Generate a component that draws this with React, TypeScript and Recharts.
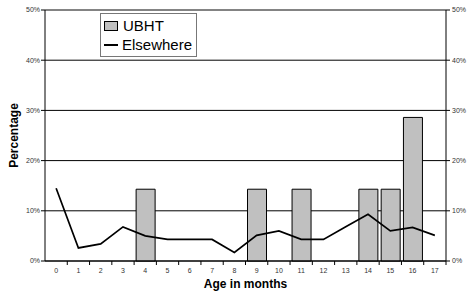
import React from "react";
import {
  ComposedChart,
  Bar,
  Line,
  XAxis,
  YAxis,
  CartesianGrid,
  ReferenceLine,
} from "recharts";

// age in months
const months = [0, 1, 2, 3, 4, 5, 6, 7, 8, 9, 10, 11, 12, 13, 14, 15, 16, 17];
// percentages, null = no bar
const ubht = [null, null, null, null, 14.3, null, null, null, null, 14.3, null, 14.3, null, null, 14.3, 14.3, 28.6, null];
const elsewhere = [14.5, 2.6, 3.4, 6.8, 5.0, 4.3, 4.3, 4.3, 1.7, 5.1, 6.0, 4.3, 4.3, 6.8, 9.3, 6.0, 6.7, 5.1];
const yTicks = [0, 10, 20, 30, 40, 50];
const seriesNames = ["UBHT", "Elsewhere"];

const data = months.map((m, i) => ({
  month: m,
  UBHT: ubht[i],
  Elsewhere: elsewhere[i],
}));

const font = "'Liberation Sans', Arial, sans-serif";

const XTick = (props: any) => {
  const { x, y, payload } = props;
  const off = payload.offset || 0;
  return (
    <g>
      <line x1={x + off} x2={x + off} y1={y} y2={y + 4} stroke="#000" />
      <text x={x} y={y + 12} textAnchor="middle" fontSize={7} fill="#333" fontFamily={font}>
        {payload.value}
      </text>
    </g>
  );
};

// legend box drawn over the plot, like the excel one
const LegendBox = () => {
  return (
    <div
      style={{
        position: "absolute",
        left: 100,
        top: 13,
        width: 97,
        height: 44,
        border: "1px solid #777",
        background: "#fff",
        fontFamily: font,
        fontSize: 15,
        color: "#000",
        boxSizing: "border-box",
        padding: "3px 0 0 3px",
        lineHeight: "18px",
      }}
    >
      {seriesNames.map((name) => (
        <div key={name} style={{ display: "flex", alignItems: "center", height: 18, marginBottom: 1 }}>
          {name === "UBHT" ? (
            <span
              style={{
                display: "inline-block",
                width: 12,
                height: 8,
                background: "#c0c0c0",
                border: "1px solid #000",
                marginRight: 5,
              }}
            />
          ) : (
            <span
              style={{
                display: "inline-block",
                width: 14,
                height: 2,
                background: "#000",
                marginRight: 4,
              }}
            />
          )}
          {name}
        </div>
      ))}
    </div>
  );
};

export default function App() {
  return (
    <div style={{ position: "absolute", left: 0, top: 0, width: 469, height: 293, background: "#fff" }}>
      <ComposedChart
        width={469}
        height={293}
        data={data}
        margin={{ top: 10, right: 0, left: 0, bottom: 0 }}
      >
        <CartesianGrid yAxisId="left" vertical={false} stroke="#000" strokeWidth={1} />
        <XAxis
          dataKey="month"
          interval={0}
          height={32}
          tickLine={false}
          tickSize={0}
          tickMargin={0}
          axisLine={{ stroke: "#000" }}
          tick={<XTick />}
          label={{
            value: "Age in months",
            position: "insideBottom",
            offset: 5,
            style: { fontFamily: font, fontSize: 12, fontWeight: "bold", fill: "#000" },
          }}
        />
        <YAxis
          yAxisId="left"
          width={45}
          domain={[0, 50]}
          ticks={yTicks}
          tickFormatter={(v) => `${v}%`}
          tickSize={4}
          tickMargin={1}
          tickLine={{ stroke: "#000" }}
          axisLine={{ stroke: "#000" }}
          tick={{ fontSize: 7, fill: "#333", fontFamily: font }}
          label={{
            value: "Percentage",
            angle: -90,
            position: "insideLeft",
            offset: 14,
            style: { textAnchor: "middle", fontFamily: font, fontSize: 12, fontWeight: "bold", fill: "#000" },
          }}
        />
        <YAxis
          yAxisId="right"
          orientation="right"
          width={23}
          domain={[0, 50]}
          ticks={yTicks}
          tickFormatter={(v) => `${v}%`}
          tickSize={4}
          tickMargin={2}
          tickLine={{ stroke: "#000" }}
          axisLine={{ stroke: "#000" }}
          tick={{ fontSize: 7, fill: "#333", fontFamily: font, textAnchor: "start" }}
        />
        <ReferenceLine yAxisId="left" y={50} stroke="#888" />
        <Bar
          yAxisId="left"
          dataKey="UBHT"
          barSize={19}
          fill="#c0c0c0"
          stroke="#000"
          strokeWidth={1}
          isAnimationActive={false}
        />
        <Line
          yAxisId="right"
          dataKey="Elsewhere"
          type="linear"
          stroke="#000"
          strokeWidth={1.7}
          dot={false}
          activeDot={false}
          isAnimationActive={false}
        />
      </ComposedChart>
      <LegendBox />
    </div>
  );
}
